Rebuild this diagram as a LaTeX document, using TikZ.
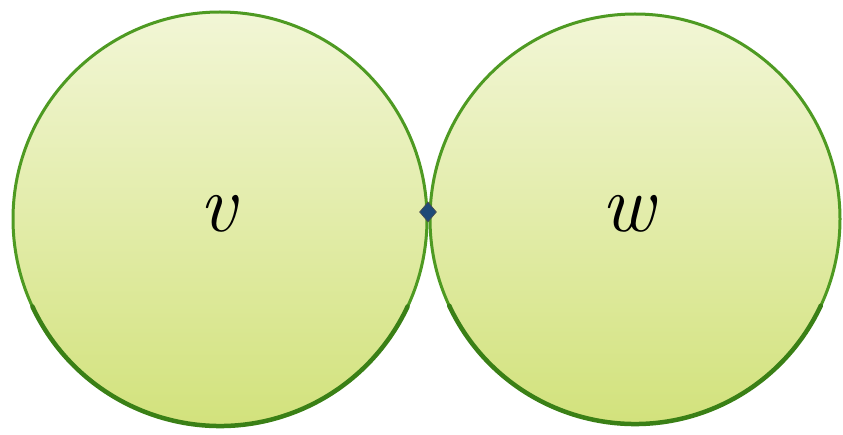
\documentclass[tikz,border=0pt]{standalone}
\usetikzlibrary{shapes.geometric}
\definecolor{fillTop}{HTML}{F2F6D6}
\definecolor{fillBot}{HTML}{D2E27C}
\definecolor{rim}{HTML}{4E9A22}
\definecolor{rimDark}{HTML}{3A8016}
\definecolor{dotBlue}{HTML}{1E4A78}
\tikzset{
  ball/.style={circle, draw=rim, line width=3pt, top color=fillTop, bottom color=fillBot, inner sep=0pt},
  lbl/.style={font=\fontsize{82}{82}\selectfont\itshape},
  joint/.style={diamond, fill=dotBlue, draw=black!70, line width=0.6pt, minimum width=17pt, minimum height=20pt, inner sep=0pt},
  lowrim/.style={draw=rimDark, line width=4.5pt, line cap=round}
}
\begin{document}
\begin{tikzpicture}[x=1pt,y=1pt]
\useasboundingbox (0,0) rectangle (843,434);
\node[ball, minimum size=414pt] (L) at (220,215) {};
\node[ball, minimum size=410pt] (R) at (635,215) {};
\draw[lowrim] ([shift={(-155:207)}]L.center) arc[start angle=-155, end angle=-25, radius=207];
\draw[lowrim] ([shift={(-155:205)}]R.center) arc[start angle=-155, end angle=-25, radius=205];
\node[lbl] (v) at (218,220) {v};
\node[lbl] (w) at (628,220) {w};
\node[joint] (j) at (428,222) {};
\end{tikzpicture}
\end{document}
